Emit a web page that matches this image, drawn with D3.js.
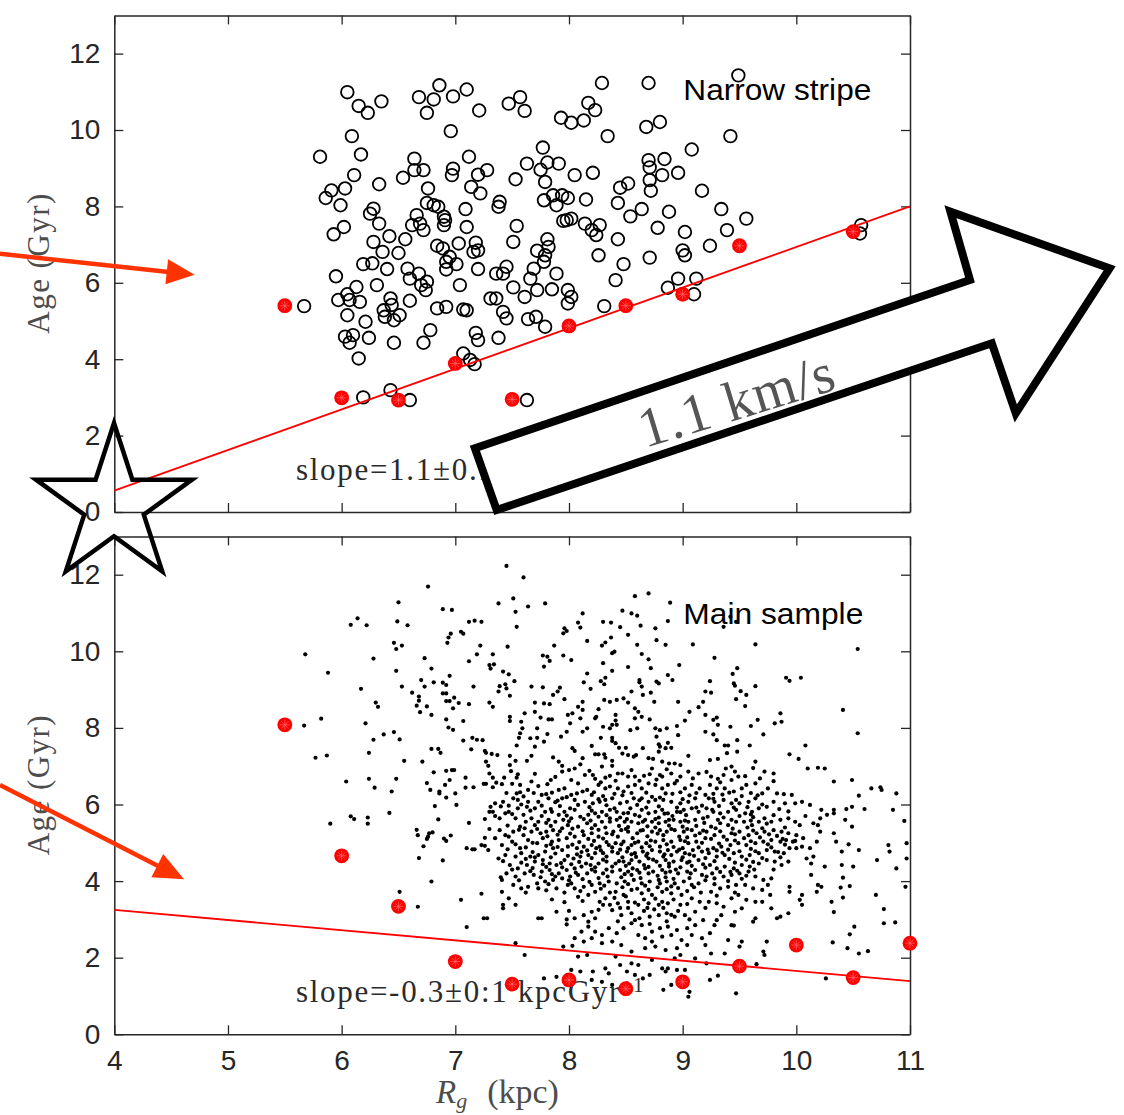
<!DOCTYPE html>
<html>
<head>
<meta charset="utf-8">
<script src="https://cdn.jsdelivr.net/npm/d3@7"></script>
<style>
  body { margin: 0; background: #fff; }
  svg { display: block; }
</style>
</head>
<body>
<svg id="chart" width="1124" height="1115"></svg>
<script>
// ---- data ----
const xTicks = [4, 5, 6, 7, 8, 9, 10, 11];
const yTicks = [0, 2, 4, 6, 8, 10, 12];

// Narrow stripe: individual stars (Rg kpc, age Gyr)
const narrowStripe = [
[6.05,10.99],[6.86,11.17],[7.10,11.06],[6.68,10.86],[6.81,10.80],[6.98,10.88],[6.15,10.63],[6.35,10.75],[6.23,10.45],[6.75,10.45],
[7.21,10.51],[7.47,10.69],[7.57,10.86],[7.61,10.50],[7.93,10.32],[8.02,10.19],[6.96,9.97],[6.09,9.84],[6.17,9.36],[5.81,9.30],
[6.64,9.25],[7.12,9.30],[7.77,9.54],[7.63,9.12],[7.81,9.15],[7.91,9.12],[7.75,8.96],[8.05,8.82],[6.11,8.82],[6.54,8.75],
[6.64,8.95],[6.72,8.95],[6.98,8.99],[6.97,8.82],[7.20,8.83],[7.28,8.95],[7.53,8.71],[6.33,8.58],[6.03,8.47],[5.91,8.42],
[5.86,8.22],[5.99,8.03],[6.76,8.47],[7.14,8.51],[7.22,8.34],[7.79,8.64],[7.39,8.12],[7.38,7.99],[7.78,8.16],[7.86,8.29],
[7.94,8.29],[7.99,8.22],[7.89,8.03],[6.75,8.09],[6.81,8.03],[6.85,7.99],[6.28,7.94],[6.25,7.81],[7.09,7.93],[6.90,7.73],
[6.91,7.64],[6.90,7.51],[6.66,7.77],[6.62,7.51],[6.69,7.55],[6.72,7.38],[6.33,7.55],[6.02,7.46],[5.93,7.27],[7.10,7.46],
[7.54,7.49],[7.95,7.62],[7.98,7.64],[8.02,7.68],[6.56,7.14],[6.42,7.22],[6.28,7.07],[7.03,7.03],[7.18,7.05],[6.84,6.97],
[7.51,7.07],[7.81,7.14],[7.82,6.94],[7.72,6.84],[6.36,6.81],[6.50,6.78],[6.89,6.90],[7.16,6.81],[7.20,6.85],[6.95,6.68],
[6.92,6.55],[6.92,6.35],[7.01,6.49],[7.79,6.72],[7.78,6.55],[6.19,6.49],[6.27,6.51],[6.40,6.36],[6.58,6.37],[6.68,6.24],
[6.60,6.11],[6.75,6.03],[6.70,5.94],[6.74,5.81],[7.20,6.36],[7.36,6.24],[7.42,6.24],[7.45,6.42],[7.69,6.37],[7.66,6.11],
[7.89,6.24],[5.95,6.17],[6.31,5.94],[6.13,5.89],[7.04,5.94],[7.51,5.88],[7.72,5.81],[7.85,5.83],[7.99,5.81],[8.02,5.63],
[7.99,5.46],[7.61,5.63],[7.31,5.59],[7.36,5.59],[6.05,5.70],[5.97,5.55],[6.07,5.55],[6.16,5.50],[6.43,5.59],[6.44,5.42],
[6.60,5.53],[5.67,5.39],[6.84,5.33],[6.92,5.37],[7.07,5.30],[7.10,5.28],[6.05,5.15],[6.37,5.28],[6.38,5.11],[6.46,5.02],
[6.51,5.15],[7.42,5.24],[7.45,5.07],[7.64,5.05],[7.71,5.11],[7.79,4.85],[6.21,4.98],[6.78,4.76],[7.18,4.69],[7.20,4.50],
[7.38,4.56],[6.03,4.59],[6.10,4.63],[6.07,4.43],[6.24,4.56],[6.46,4.43],[6.72,4.43],[6.15,4.02],[7.07,4.15],[7.13,3.98],
[7.17,3.87],[6.19,3.00],[6.43,3.19],[6.60,2.93],[7.63,2.93],
[8.29,11.23],[8.70,11.23],[9.49,11.43],[8.17,10.71],[8.23,10.52],[8.13,10.25],[8.34,9.84],[8.68,10.08],[8.80,10.21],[9.42,9.84],
[9.08,9.49],[8.70,9.21],[8.71,9.02],[8.84,9.24],[8.82,8.82],[8.96,8.88],[8.21,8.88],[8.45,8.49],[8.52,8.60],[8.71,8.69],
[8.72,8.41],[9.17,8.41],[8.15,8.18],[8.43,8.09],[8.64,7.93],[8.54,7.74],[8.88,7.86],[9.34,7.93],[9.56,7.68],[8.14,7.55],
[8.20,7.38],[8.27,7.51],[8.24,7.25],[8.43,7.14],[8.78,7.44],[9.02,7.33],[9.39,7.38],[8.26,6.72],[8.71,6.66],[9.00,6.85],
[9.02,6.72],[9.24,6.97],[8.48,6.49],[8.41,6.07],[8.96,6.11],[9.12,6.11],[8.87,5.87],[9.10,5.70],[8.31,5.39],[10.57,7.51],
[10.56,7.29]
];

// Narrow stripe: binned minimum ages
const narrowBins = [[5.5,5.40],[6.0,2.99],[6.5,2.93],[7.0,3.89],[7.5,2.95],[8.0,4.87],[8.5,5.40],[9.0,5.70],[9.5,6.97],[10.5,7.34]];
const narrowFit = [[4,0.56],[11,8.0]];

// Main sample: individual stars (Rg kpc, age Gyr)
const mainSample = [
[6.76,11.69],[6.50,11.28],[6.89,11.10],[6.97,11.08],[6.14,10.86],[6.08,10.69],[6.22,10.68],[6.49,10.78],[6.58,10.68],[7.12,10.77],
[7.17,10.80],[7.23,10.77],[7.05,10.51],[7.07,10.46],[6.96,10.46],[6.94,10.36],[6.93,10.22],[6.46,10.22],[6.53,10.15],[6.48,10.06],
[7.22,10.15],[7.19,9.92],[7.33,9.92],[5.68,9.92],[6.28,9.81],[6.73,9.82],[7.12,9.74],[7.30,9.64],[7.31,9.55],[7.34,9.66],
[5.88,9.44],[6.48,9.49],[6.79,9.55],[6.95,9.36],[6.70,9.25],[6.81,9.19],[6.89,9.18],[6.92,9.12],[6.73,9.08],[6.53,9.08],
[7.16,9.08],[6.17,9.02],[6.62,8.92],[6.68,8.82],[6.68,8.71],[6.89,8.90],[6.92,8.90],[6.99,8.79],[6.92,8.70],[6.95,8.70],
[7.03,8.65],[7.12,8.62],[7.30,8.66],[7.33,8.55],[6.30,8.66],[6.32,8.55],[6.66,8.58],[6.75,8.56],[6.69,8.41],[6.79,8.34],
[6.98,8.51],[5.82,8.24],[5.67,8.06],[6.21,8.12],[6.92,8.22],[7.07,8.18],[6.94,8.01],[6.98,7.95],[6.46,7.89],[6.37,7.83],
[6.28,7.69],[6.51,7.70],[7.07,7.67],[7.15,7.74],[7.19,7.69],[7.24,7.68],[6.24,7.35],[5.77,7.22],[5.87,7.28],[6.55,7.14],
[6.71,7.12],[6.79,7.45],[6.85,7.45],[6.87,7.35],[7.14,7.44],[7.26,7.40],[7.27,7.35],[7.32,7.32],[7.27,7.12],[7.29,7.01],
[7.30,6.81],[7.33,6.70],[6.81,6.84],[6.92,6.88],[6.97,6.90],[6.99,6.90],[7.09,6.70],[7.25,6.54],[7.27,6.54],[6.04,6.60],
[6.24,6.67],[6.29,6.44],[6.48,6.67],[6.44,6.34],[6.75,6.56],[6.78,6.38],[6.86,6.34],[6.86,6.29],[6.91,6.51],[6.95,6.64],
[6.92,6.18],[7.00,6.29],[7.09,6.44],[7.16,6.45],[7.33,6.45],[6.82,5.96],[7.01,5.99],[7.31,5.94],[7.30,5.81],[7.33,5.81],
[6.42,5.78],[6.08,5.69],[6.11,5.62],[6.23,5.66],[6.23,5.50],[5.90,5.50],[6.85,5.61],[7.12,5.52],[7.26,5.62],[7.30,5.36],
[6.66,5.34],[6.67,5.20],[6.76,5.16],[6.77,5.25],[6.80,5.27],[6.75,5.10],[6.90,5.11],[6.92,5.05],[6.96,5.19],[7.26,5.13],
[7.23,4.94],[7.26,4.92],[7.29,4.81],[7.10,4.86],[7.15,4.83],[7.17,4.83],[6.72,4.91],[6.68,4.60],[6.89,4.54],[6.79,3.99],
[6.51,3.72],[7.05,3.51],[7.23,3.67],[6.67,3.33],[7.25,3.03],[7.28,3.03],[7.10,2.80],
[7.45,12.23],[7.60,11.93],[7.51,11.38],[7.38,11.25],[7.64,11.17],[7.79,11.25],[7.53,11.03],[7.54,10.64],[8.58,11.44],[8.70,11.51],
[8.89,11.27],[8.47,11.06],[8.55,10.99],[8.60,10.93],[8.12,10.99],[8.87,10.79],[7.96,10.60],[7.98,10.53],[7.95,10.47],[8.08,10.75],
[8.10,10.62],[8.30,10.77],[8.37,10.75],[8.45,10.63],[8.63,10.67],[8.76,10.60],[8.52,10.43],[8.37,10.36],[8.32,10.23],[8.29,10.15],
[8.16,10.27],[7.87,10.15],[7.46,10.12],[8.60,10.17],[8.77,10.29],[8.85,10.17],[9.09,10.18],[7.77,9.89],[7.81,9.86],[7.83,9.75],
[7.78,9.60],[7.95,9.89],[8.02,9.77],[8.30,9.69],[8.40,9.99],[8.38,9.95],[8.64,9.93],[8.70,9.79],[8.97,9.64],[8.52,9.59],
[8.38,9.49],[8.72,9.56],[8.16,9.42],[8.32,9.31],[8.28,9.22],[8.13,9.19],[8.19,9.02],[8.31,9.14],[7.42,9.47],[7.47,9.40],
[7.52,9.22],[7.44,9.14],[7.39,9.09],[7.38,8.95],[7.48,8.84],[7.45,9.03],[7.67,9.08],[7.77,9.06],[7.92,9.05],[7.90,8.95],
[7.86,8.86],[7.96,8.75],[8.62,9.25],[8.62,9.19],[8.64,9.08],[8.77,9.21],[8.79,9.16],[8.87,9.38],[8.91,9.25],[8.96,8.68],
[8.55,8.95],[8.72,8.92],[8.75,8.68],[8.65,8.86],[8.31,8.73],[8.36,8.68],[8.42,8.73],[8.48,8.77],[8.52,8.66],[8.58,8.51],
[8.12,8.68],[8.08,8.55],[8.12,8.47],[8.03,8.38],[7.99,8.34],[8.01,8.12],[8.10,8.25],[7.70,8.66],[7.78,8.64],[7.83,8.62],
[7.61,8.38],[7.70,8.42],[7.75,8.27],[7.82,8.22],[7.85,8.22],[7.48,8.29],[7.48,8.18],[7.58,8.16],[7.59,7.99],[7.57,7.86],
[7.56,7.74],[7.72,7.99],[8.26,8.49],[8.24,8.29],[8.23,8.25],[8.41,8.34],[8.41,8.19],[8.42,8.08],[8.38,8.08],[8.30,8.03],
[8.36,7.99],[8.61,8.42],[8.64,8.29],[8.58,8.25],[8.71,8.22],[8.76,7.99],[8.80,7.94],[8.86,7.99],[8.95,8.05],[8.96,7.81],
[9.06,8.42],[9.02,8.19],[8.87,7.61],[8.90,7.48],[8.85,7.47],[9.20,8.34],[9.18,8.68],[9.14,8.54],[8.77,7.77],[8.60,7.99],
[8.54,7.94],[8.16,7.99],[8.12,7.90],[8.28,7.74],[8.38,7.74],[8.41,7.60],[7.98,7.90],[7.93,7.77],[7.81,7.84],[7.72,7.74],
[7.66,7.73],[7.78,7.64],[7.70,7.51],[7.37,7.29],[7.48,7.27],[7.54,7.54],[7.53,7.14],[7.67,7.27],[7.63,7.14],[7.48,7.03],
[7.49,6.87],[7.55,6.79],[7.54,6.70],[7.43,6.70],[7.36,6.57],[7.41,6.53],[7.50,6.54],[7.57,6.51],[7.86,7.23],[7.91,7.12],
[7.94,7.01],[8.03,7.47],[8.05,7.40],[8.12,7.21],[8.10,7.05],[8.20,7.53],[8.23,7.31],[8.26,7.31],[8.31,7.31],[8.29,6.99],
[8.32,7.22],[8.38,7.14],[8.38,7.01],[8.38,7.66],[8.44,7.48],[8.50,7.48],[8.47,7.33],[8.52,7.29],[8.57,7.25],[8.59,7.29],
[8.65,7.47],[8.70,7.21],[8.74,7.19],[8.79,7.38],[8.80,7.51],[8.82,7.12],[8.88,7.07],[8.93,7.07],[8.98,7.03],[9.05,7.27],
[9.05,6.86],[9.14,6.81],[8.79,7.57],[7.94,6.86],[8.05,6.94],[8.14,6.77],[8.21,6.77],[8.23,6.67],[8.32,6.70],[8.36,6.75],
[8.43,6.81],[8.47,6.81],[8.52,6.73],[8.58,6.73],[8.66,6.75],[8.71,6.79],[8.73,6.94],[8.80,6.77],[8.82,6.73],[8.90,6.81],
[8.98,6.73],[8.02,6.64],[8.08,6.55],[7.84,6.64],[7.81,6.53],[7.67,6.60],[7.64,6.38],[7.73,6.48],[7.80,6.27],[7.91,6.38],
[7.96,6.42],[7.35,6.03],[7.42,6.07],[7.47,5.97],[7.51,6.16],[7.54,6.29],[7.57,6.32],[7.64,6.07],[7.73,6.07],[7.76,6.25],
[7.82,6.16],[7.88,6.06],[7.94,6.16],[8.02,6.25],[8.05,6.12],[8.12,6.34],[8.16,6.38],[8.20,6.25],[8.26,6.51],[8.32,6.42],
[8.36,6.47],[8.43,6.42],[8.48,6.34],[8.52,6.47],[8.58,6.51],[8.64,6.42],[8.70,6.55],[8.76,6.51],[8.82,6.42],[8.87,6.51],
[8.93,6.55],[9.02,6.42],[9.08,6.51],[9.15,6.42],[9.20,6.25],[9.11,6.16],[9.05,6.07],[8.98,6.03],[8.90,6.07],[8.83,6.12],
[8.76,6.12],[8.70,6.07],[8.64,6.16],[8.57,6.16],[8.51,6.07],[8.45,6.03],[8.38,6.16],[8.32,6.12],[8.27,6.07],[8.21,6.03],
[8.14,6.07],[8.08,5.99],[8.01,5.90],[7.96,5.81],[7.91,5.73],[7.85,5.81],[7.79,5.81],[7.70,5.90],[7.63,5.94],[7.55,5.90],
[7.47,5.81],[7.44,5.77],[7.39,5.64],[7.53,5.64],[7.60,5.73],[7.67,5.64],[7.73,5.55],[7.82,5.60],[7.88,5.55],[7.95,5.60],
[8.02,5.64],[8.10,5.68],[8.17,5.73],[8.23,5.77],[8.29,5.81],[8.36,5.86],[8.42,5.81],[8.48,5.77],[8.54,5.90],[8.58,5.73],
[8.64,5.86],[8.70,5.77],[8.76,5.81],[8.82,5.86],[8.87,5.77],[8.95,5.81],[9.01,5.86],[9.08,5.90],[9.14,5.81],[9.18,5.64],
[9.11,5.60],[9.05,5.55],[8.98,5.55],[8.92,5.60],[8.85,5.55],[8.79,5.51],[8.73,5.55],[8.67,5.60],[8.61,5.51],[8.55,5.55],
[8.49,5.55],[8.42,5.60],[8.36,5.55],[8.29,5.55],[8.23,5.46],[8.16,5.51],[8.08,5.42],[7.99,5.46],[7.94,5.38],[7.86,5.33],
[7.80,5.29],[7.75,5.25],[7.67,5.29],[7.61,5.38],[7.51,5.29],[7.44,5.20],[7.39,5.33],[7.41,4.94],[7.50,5.03],[7.57,4.86],
[7.64,5.07],[7.72,4.99],[7.77,5.12],[7.85,5.03],[7.91,5.07],[7.98,5.12],[8.05,5.16],[8.13,5.20],[8.20,5.25],[8.26,5.16],
[8.33,5.25],[8.39,5.29],[8.46,5.33],[8.52,5.29],[8.60,5.25],[8.65,5.33],[8.73,5.29],[8.80,5.33],[8.86,5.29],[8.93,5.33],
[9.01,5.29],[9.08,5.33],[9.15,5.25],[9.20,5.12],[9.12,5.03],[9.05,4.99],[8.98,5.07],[8.90,5.03],[8.83,5.07],[8.76,5.03],
[8.68,4.99],[8.61,5.03],[8.55,4.94],[8.48,5.03],[8.41,4.99],[8.35,4.94],[8.27,4.90],[8.20,4.94],[8.13,4.90],[8.07,4.86],
[7.99,4.90],[7.94,4.81],[7.86,4.86],[7.79,4.77],[7.73,4.68],[7.66,4.64],[7.58,4.73],[7.53,4.64],[7.44,4.68],[7.38,4.59],
[7.48,4.42],[7.55,4.33],[7.63,4.42],[7.70,4.51],[7.77,4.55],[7.83,4.46],[7.89,4.42],[7.96,4.55],[8.04,4.59],[8.10,4.64],
[8.17,4.68],[8.23,4.73],[8.30,4.73],[8.38,4.77],[8.43,4.73],[8.51,4.77],[8.58,4.73],[8.65,4.77],[8.73,4.81],[8.80,4.77],
[8.87,4.81],[8.95,4.77],[9.02,4.73],[9.09,4.81],[9.17,4.77],[9.14,4.55],[9.06,4.51],[8.99,4.55],[8.92,4.51],[8.85,4.55],
[8.77,4.51],[8.70,4.59],[8.62,4.51],[8.55,4.55],[8.48,4.51],[8.41,4.46],[8.33,4.51],[8.26,4.46],[8.19,4.42],[8.11,4.38],
[8.05,4.33],[7.98,4.29],[7.91,4.20],[7.83,4.29],[7.76,4.25],[7.69,4.16],[7.61,4.20],[7.53,4.12],[7.45,4.20],[7.41,4.03],
[7.51,3.90],[7.58,3.81],[7.64,3.85],[7.72,3.94],[7.79,3.99],[7.86,4.03],[7.94,4.07],[8.01,4.12],[8.08,4.16],[8.16,4.20],
[8.23,4.25],[8.30,4.20],[8.38,4.25],[8.45,4.29],[8.52,4.25],[8.60,4.29],[8.67,4.33],[8.74,4.25],[8.82,4.29],[8.89,4.25],
[8.96,4.20],[9.04,4.25],[9.11,4.29],[9.17,4.16],[9.14,3.94],[9.08,3.90],[9.01,3.99],[8.93,3.94],[8.86,3.99],[8.79,4.03],
[8.71,3.99],[8.64,3.94],[8.57,4.03],[8.49,3.99],[8.42,3.94],[8.35,3.99],[8.27,3.94],[8.20,3.90],[8.13,3.85],[8.05,3.81],
[7.99,3.90],[7.89,3.81],[7.73,3.81],[7.41,3.72],[7.53,3.38],[7.42,3.38],[7.42,3.29],[7.47,3.55],[7.73,3.03],[7.76,3.03],
[7.89,3.20],[7.98,3.00],[7.98,2.87],[8.05,3.03],[8.13,3.11],[8.17,2.94],[8.23,3.03],[8.26,3.25],[8.32,3.55],[8.08,3.59],
[8.17,3.64],[8.23,3.72],[8.41,3.72],[8.48,3.64],[8.55,3.77],[8.64,3.68],[8.73,3.64],[8.82,3.72],[8.90,3.68],[8.99,3.64],
[9.08,3.55],[9.15,3.46],[8.98,3.38],[8.87,3.42],[8.79,3.38],[8.70,3.42],[8.61,3.38],[8.52,3.46],[8.43,3.42],[8.36,3.38],
[8.46,3.11],[8.55,3.16],[8.62,3.03],[8.71,3.07],[8.79,3.11],[8.86,3.16],[8.93,3.07],[9.02,3.11],[9.11,3.20],[9.18,2.98],
[9.11,2.85],[9.04,2.77],[8.95,2.72],[8.87,2.81],[8.80,2.77],[8.73,2.68],[8.64,2.85],[8.55,2.90],[8.48,2.77],[8.42,2.64],
[8.35,2.77],[8.29,2.59],[8.23,2.68],[8.17,2.81],[8.11,2.68],[8.61,2.59],[8.67,2.51],[8.73,2.42],[8.82,2.55],[8.90,2.59],
[8.99,2.46],[9.08,2.59],[9.17,2.51],[9.04,2.33],[8.95,2.25],[8.85,2.20],[8.76,2.29],[8.67,2.25],[8.55,2.16],[8.46,2.33],
[8.38,2.42],[8.29,2.38],[8.20,2.51],[8.13,2.42],[8.05,2.51],[7.53,2.38],[7.61,2.07],[7.95,2.29],[8.03,2.31],[8.08,2.03],
[8.16,2.07],[8.41,2.03],[8.45,1.81],[8.55,1.85],[8.61,1.81],[8.73,1.94],[8.82,1.72],[8.87,1.72],[8.93,1.98],[8.98,2.07],
[9.11,1.98],[8.02,1.68],[8.10,1.64],[8.21,1.64],[8.32,1.72],[8.35,1.59],[8.51,1.64],[8.58,1.55],[8.65,1.46],[8.71,1.55],
[8.85,1.64],[8.95,1.68],[9.02,1.68],[7.78,1.46],[7.89,1.50],[8.20,1.42],[8.29,1.37],[8.38,1.29],[8.51,1.33],[8.83,1.16],
[8.90,1.29],[9.06,1.11],[9.05,0.98],
[9.42,10.90],[9.47,10.77],[9.36,10.64],[9.64,10.18],[10.54,10.06],[9.28,9.83],[9.48,9.56],[9.44,9.41],[9.45,9.16],[9.46,9.10],
[9.24,9.22],[9.64,9.09],[9.20,8.95],[9.25,8.92],[9.51,8.96],[9.56,8.86],[9.47,8.75],[9.55,8.57],[9.91,9.31],[9.94,9.23],
[10.04,9.31],[10.41,8.47],[9.86,8.38],[9.81,8.12],[9.87,8.16],[9.66,8.21],[9.60,8.05],[9.30,8.27],[9.31,8.08],[9.42,8.03],
[9.27,8.21],[9.27,7.83],[9.30,7.68],[9.37,7.54],[9.40,7.54],[9.39,7.34],[9.48,7.68],[9.48,7.38],[9.59,7.54],[9.71,7.83],
[9.64,7.12],[9.20,7.90],[9.94,7.31],[10.08,7.54],[10.02,7.19],[10.54,7.86],[10.10,6.94],[10.19,6.96],[10.25,6.94],[10.33,6.60],
[10.49,6.64],[10.66,6.42],[10.74,6.45],[10.75,6.38],[10.88,6.29],[10.55,6.23],[10.60,5.88],[10.49,5.94],[10.44,5.88],[10.33,5.86],
[10.33,5.77],[10.43,5.60],[10.49,5.42],[10.46,4.96],[10.40,4.77],[10.55,4.81],[10.33,5.25],[10.35,5.03],[10.27,5.73],[10.22,5.86],
[10.21,5.64],[10.19,5.46],[10.21,5.29],[10.15,5.51],[10.18,5.03],[10.12,4.86],[10.15,4.64],[10.09,4.59],[10.25,4.38],[10.22,3.85],
[10.19,3.90],[10.13,4.46],[10.13,4.16],[10.18,3.72],[10.85,5.86],[10.95,5.57],[10.81,4.94],[10.82,4.77],[10.71,4.55],[10.97,4.99],
[10.97,4.59],[10.88,4.33],[10.96,3.85],[10.40,4.42],[10.41,4.09],[10.50,4.38],[10.47,3.87],[10.39,3.83],[10.41,3.57],[10.31,3.46],
[10.33,3.19],[10.70,3.64],[10.77,3.27],[10.77,2.90],[10.87,2.92],[10.51,2.81],[10.47,2.61],[10.32,2.40],[10.45,2.25],[10.55,2.11],
[10.63,2.17],[10.26,1.46],
[9.24,7.16],[9.31,7.19],[9.38,6.94],[9.43,6.99],[9.46,6.86],[9.49,6.73],[9.43,6.64],[9.36,6.77],[9.31,6.67],[9.25,6.73],
[9.24,6.51],[9.30,6.42],[9.37,6.42],[9.45,6.34],[9.52,6.42],[9.56,6.51],[9.64,6.55],[9.68,6.68],[9.72,6.86],[9.80,6.81],
[9.80,6.61],[9.75,6.42],[9.70,6.29],[9.64,6.16],[9.58,6.07],[9.50,6.03],[9.43,6.03],[9.36,6.12],[9.28,6.07],[9.23,6.16],
[9.21,5.90],[9.27,5.81],[9.33,5.77],[9.40,5.81],[9.47,5.86],[9.55,5.77],[9.61,5.81],[9.67,5.90],[9.74,5.94],[9.80,6.07],
[9.90,6.03],[9.99,6.03],[10.05,6.07],[10.12,5.99],[9.96,6.25],[9.89,6.27],[9.86,5.60],[9.93,5.64],[9.99,5.55],[10.03,5.46],
[9.78,5.55],[9.72,5.64],[9.67,5.55],[9.61,5.46],[9.54,5.55],[9.47,5.55],[9.40,5.46],[9.33,5.51],[9.25,5.42],[9.21,5.29],
[9.28,5.20],[9.36,5.16],[9.43,5.25],[9.50,5.29],[9.58,5.20],[9.65,5.25],[9.72,5.29],[9.80,5.33],[9.87,5.29],[9.93,5.25],
[10.00,5.20],[10.06,5.12],[9.97,5.03],[9.91,5.07],[9.86,5.03],[9.78,5.07],[9.71,5.03],[9.64,4.99],[9.56,4.94],[9.49,4.99],
[9.42,4.94],[9.34,4.90],[9.27,4.86],[9.23,4.73],[9.30,4.64],[9.37,4.68],[9.45,4.73],[9.52,4.64],[9.59,4.68],[9.67,4.73],
[9.74,4.81],[9.81,4.77],[9.89,4.73],[9.94,4.86],[10.00,4.86],[10.05,4.90],[9.93,4.51],[9.87,4.42],[9.81,4.51],[9.74,4.55],
[9.67,4.46],[9.59,4.38],[9.52,4.42],[9.45,4.33],[9.37,4.38],[9.30,4.33],[9.24,4.42],[9.21,4.12],[9.28,4.07],[9.36,4.12],
[9.43,4.16],[9.50,4.20],[9.58,4.25],[9.64,4.12],[9.71,4.03],[9.78,4.07],[9.75,3.90],[9.70,3.77],[9.62,3.81],[9.55,3.90],
[9.47,3.90],[9.40,3.85],[9.33,3.81],[9.25,3.72],[9.23,3.46],[9.30,3.42],[9.36,3.33],[9.43,3.55],[9.49,3.64],[9.56,3.51],
[9.64,3.46],[9.70,3.46],[9.77,3.64],[9.78,3.29],[9.83,3.03],[9.86,3.07],[9.93,3.16],[9.94,3.72],[9.94,3.85],[10.05,3.64],
[10.05,3.38],[10.03,3.51],[9.64,3.03],[9.62,2.94],[9.52,3.29],[9.46,3.20],[9.34,3.11],[9.30,2.98],[9.24,2.64],[9.28,2.85],
[9.43,2.85],[9.45,2.84],[9.20,2.33],[9.25,2.11],[9.40,2.46],[9.50,2.29],[9.52,2.42],[9.37,2.11],[9.71,2.16],[9.74,2.42],
[9.72,2.07],[9.65,1.83],[9.31,1.53],[9.24,1.42],[9.47,1.07],[9.21,1.85],
// crowded core of the distribution
[7.45,6.30],[7.69,6.30],[7.85,6.31],[8.07,6.29],[8.22,6.32],[8.40,6.28],[8.55,6.30],[8.68,6.31],[8.85,6.29],[8.98,6.32],
[9.12,6.30],[9.27,6.28],[9.41,6.31],[9.60,6.30],[9.83,6.29],[7.60,6.21],[7.98,6.19],[8.30,6.22],[8.47,6.24],[8.73,6.20],
[8.91,6.28],[9.06,6.24],[9.35,6.26],[9.52,6.22],[7.40,5.95],[7.58,6.00],[7.76,5.97],[7.92,5.96],[8.18,5.93],[8.33,5.98],
[8.60,5.99],[8.79,5.95],[8.95,5.92],[9.17,5.97],[9.32,5.96],[9.57,5.93],[9.70,6.00],[9.85,5.88],[7.35,5.70],[7.50,5.75],
[7.76,5.70],[7.98,5.71],[8.13,5.62],[8.26,5.68],[8.33,5.72],[8.45,5.66],[8.62,5.69],[8.79,5.66],[8.91,5.70],[9.03,5.72],
[9.22,5.68],[9.36,5.66],[9.50,5.70],[9.62,5.67],[9.80,5.72],[10.08,5.70],[7.46,5.45],[7.57,5.42],[7.70,5.46],[7.84,5.44],
[8.03,5.37],[8.20,5.38],[8.32,5.40],[8.44,5.44],[8.52,5.41],[8.69,5.43],[8.76,5.40],[8.88,5.45],[9.00,5.42],[9.12,5.44],
[9.29,5.38],[9.44,5.37],[9.57,5.40],[9.70,5.38],[9.90,5.40],[7.35,5.12],[7.47,5.16],[7.60,5.20],[7.81,5.17],[7.90,5.21],
[8.01,5.24],[8.17,5.10],[8.30,5.11],[8.43,5.16],[8.56,5.12],[8.69,5.17],[8.83,5.20],[8.97,5.16],[9.04,5.14],[9.11,5.19],
[9.25,5.10],[9.39,5.08],[9.54,5.12],[9.68,5.14],[9.83,5.18],[9.99,5.05],[7.46,4.83],[7.62,4.88],[7.80,4.92],[7.90,4.89],
[8.03,4.95],[8.16,4.80],[8.24,4.86],[8.38,4.88],[8.52,4.86],[8.64,4.88],[8.71,4.91],[8.80,4.90],[8.92,4.89],[9.00,4.86],
[9.14,4.88],[9.30,4.80],[9.40,4.82],[9.60,4.84],[9.78,4.88],[9.90,4.95],[7.42,4.52],[7.62,4.58],[7.70,4.62],[7.84,4.62],
[7.99,4.66],[8.07,4.70],[8.20,4.60],[8.33,4.64],[8.47,4.62],[8.59,4.63],[8.68,4.66],[8.83,4.64],[8.90,4.68],[9.00,4.62],
[9.10,4.66],[9.20,4.60],[9.41,4.58],[9.56,4.56],[9.70,4.60],[9.86,4.62],[7.50,4.30],[7.68,4.34],[7.80,4.37],[7.94,4.36],
[8.02,4.44],[8.15,4.46],[8.23,4.36],[8.38,4.38],[8.50,4.40],[8.56,4.33],[8.70,4.37],[8.80,4.40],[8.88,4.38],[8.98,4.36],
[9.08,4.40],[9.20,4.35],[9.33,4.24],[9.48,4.27],[9.63,4.30],[9.80,4.30],[7.40,4.10],[7.56,4.02],[7.75,4.10],[7.88,4.12],
[8.00,4.02],[8.12,4.05],[8.26,4.08],[8.34,4.12],[8.46,4.10],[8.55,4.16],[8.63,4.08],[8.78,4.14],[8.85,4.10],[8.92,4.06],
[9.06,4.08],[9.20,4.02],[9.40,4.00],[9.52,4.06],[7.62,3.70],[7.80,3.76],[7.96,3.70],[8.10,3.74],[8.28,3.80],[8.36,3.70],
[8.47,3.84],[8.60,3.80],[8.70,3.77],[8.78,3.84],[8.86,3.79],[8.96,3.82],[9.04,3.74],[9.16,3.70],[9.30,3.62],[9.46,3.70],
[7.85,3.52],[7.96,3.45],[8.12,3.48],[8.27,3.46],[8.40,3.56],[8.50,3.60],[8.66,3.52],[8.76,3.54],[8.92,3.52],[9.04,3.40],
[9.20,3.30],[8.00,3.22],[8.20,3.20],[8.38,3.24],[8.52,3.30],[8.66,3.22],[8.75,3.26],[8.83,3.30],[8.96,3.22],[9.06,3.00],
[7.70,6.80],[7.88,6.72],[8.00,6.90],[8.18,6.88],[8.28,6.58],[8.41,6.62],[8.55,6.90],[8.62,6.62],[8.77,6.65],[8.86,6.92],
[8.95,6.62],[9.09,6.68],[9.21,6.85],[9.33,6.58],[9.55,6.74],[9.62,6.95],
[7.55,6.12],[7.90,6.10],[8.26,6.14],[8.62,6.11],[8.80,6.18],[9.00,6.14],[9.27,6.15],[9.47,6.12],[9.66,6.24],
[7.66,5.84],[7.84,5.88],[8.05,5.86],[8.20,5.84],[8.40,5.90],[8.52,5.78],[8.68,5.92],[8.84,5.76],[8.98,5.80],[9.12,5.92],
[9.26,5.86],[9.45,5.92],[9.60,5.74],[9.93,5.82],[7.62,5.55],[7.80,5.52],[8.00,5.56],[8.19,5.58],[8.36,5.64],[8.51,5.62],
[8.65,5.55],[8.76,5.62],[8.88,5.60],[9.02,5.58],[9.19,5.52],[9.31,5.60],[9.43,5.60],[9.60,5.58],[9.74,5.50],[7.56,5.34],
[7.72,5.36],[7.92,5.30],[8.12,5.30],[8.26,5.34],[8.38,5.22],[8.50,5.36],[8.63,5.32],[8.78,5.24],[8.90,5.36],[9.04,5.36],
[9.18,5.32],[9.33,5.30],[9.46,5.22],[9.62,5.32],[9.76,5.22],[7.53,4.96],[7.68,5.00],[7.84,4.96],[8.09,5.02],[8.22,5.05],
[8.33,5.02],[8.46,4.96],[8.58,5.00],[8.72,5.06],[8.86,4.96],[9.02,5.04],[9.17,5.00],[9.32,4.98],[9.46,5.06],[9.60,5.04],
[9.75,4.96],[9.88,5.10],[7.68,4.76],[7.88,4.72],[8.11,4.76],[8.28,4.80],[8.45,4.82],[8.55,4.70],[8.69,4.72],[8.84,4.70],
[8.97,4.82],[9.06,4.70],[9.22,4.82],[9.35,4.74],[9.50,4.78],[9.64,4.78],[9.84,4.76],[7.58,4.48],[7.77,4.44],[7.93,4.47],
[8.09,4.50],[8.30,4.56],[8.44,4.52],[8.53,4.46],[8.66,4.42],[8.74,4.56],[8.88,4.46],[9.04,4.48],[9.18,4.44],[9.28,4.52],
[9.46,4.48],[9.62,4.50],[7.66,4.26],[7.85,4.18],[8.06,4.22],[8.20,4.30],[8.33,4.30],[8.49,4.18],[8.62,4.22],[8.70,4.20],
[8.85,4.22],[8.94,4.30],[9.07,4.20],[9.26,4.20],[9.42,4.24],[9.56,4.14],[7.82,3.92],[8.02,3.94],[8.18,3.98],[8.31,3.88],
[8.52,3.92],[8.67,3.88],[8.80,3.94],[8.90,3.86],[9.10,3.84],[9.28,3.92],[8.30,3.38],[8.45,3.30],[8.58,3.44],[8.69,3.30],
[8.82,3.46],[8.90,3.12],[8.43,2.95],[8.58,2.98],[8.71,2.88],[8.86,2.95]
];

// Main sample: binned minimum ages
const mainBins = [[5.5,8.08],[6.0,4.66],[6.5,3.34],[7.0,1.90],[7.5,1.31],[8.0,1.42],[8.5,1.19],[9.0,1.37],[9.5,1.78],[10.0,2.33],[10.5,1.48],[11.0,2.38]];
const mainFit = [[4,3.25],[11,1.39]];

// fit annotations: main text and optional unit exponent
const slopeTexts = ["slope=1.1\u00b10.1", "slope=-0.3\u00b10:1 kpcGyr"];
const slopeExps = ["", "\u22121"];
const panelTitles = ["Narrow stripe", "Main sample"];

// ---- layout ----
const svg = d3.select("#chart");
const AXIS = "#262626";
const SANS = "'Liberation Sans', Arial, Helvetica, sans-serif";
const SERIF = "'Liberation Serif', 'Times New Roman', serif";
const x = d3.scaleLinear().domain([4, 11]).range([114.3, 910]);

const panels = [
  { top: 15.4, bottom: 512, showX: false, stars: narrowStripe, bins: narrowBins, fit: narrowFit,
    slope: slopeTexts[0], exp: slopeExps[0], slopeY: 480.4, title: panelTitles[0], titleY: 99.9, titleLen: 188, open: true },
  { top: 536.4, bottom: 1034.3, showX: true, stars: mainSample, bins: mainBins, fit: mainFit,
    slope: slopeTexts[1], exp: slopeExps[1], slopeY: 1002, title: panelTitles[1], titleY: 624, titleLen: 180, open: false }
];

function drawPanel(p) {
  const y = d3.scaleLinear().domain([0, 13]).range([p.bottom, p.top]);
  const g = svg.append("g");

  g.append("g").attr("transform", `translate(${x(4)},0)`)
    .call(d3.axisLeft(y).tickValues(yTicks).tickSize(-9).tickSizeOuter(0).tickPadding(14).tickFormat(d3.format("d")));
  g.append("g").attr("transform", `translate(${x(11)},0)`)
    .call(d3.axisRight(y).tickValues(yTicks).tickSize(-9).tickSizeOuter(0).tickFormat(""));
  g.append("g").attr("transform", `translate(0,${p.top})`)
    .call(d3.axisTop(x).tickValues(xTicks).tickSize(-9).tickSizeOuter(0).tickFormat(""));
  g.append("g").attr("transform", `translate(0,${p.bottom})`)
    .call(d3.axisBottom(x).tickValues(xTicks).tickSize(-9).tickSizeOuter(0).tickPadding(16)
      .tickFormat(p.showX ? d3.format("d") : ""));

  g.selectAll(".domain").attr("stroke", AXIS).attr("stroke-width", 1.5);
  g.selectAll(".tick line").attr("stroke", AXIS).attr("stroke-width", 1.3);
  g.selectAll(".tick text").attr("font-family", SANS).attr("font-size", 28).attr("fill", AXIS);

  // y-axis title
  g.append("text")
    .attr("transform", `translate(49,${(p.top + p.bottom) / 2}) rotate(-90)`)
    .attr("text-anchor", "middle")
    .attr("font-family", SERIF).attr("font-size", 31).attr("fill", "#4d4d4d")
    .attr("textLength", 140).attr("lengthAdjust", "spacing")
    .text("Age (Gyr)");

  // fit annotation
  const st = g.append("text").attr("x", 296).attr("y", p.slopeY)
    .attr("font-family", SERIF).attr("font-size", 31).attr("fill", "#2b2b2b")
    .attr("letter-spacing", 1.7);
  st.append("tspan").text(p.slope);
  if (p.exp) st.append("tspan").attr("font-size", 21).attr("dy", -10).attr("letter-spacing", 0).text(p.exp);

  // panel title
  g.append("text").attr("x", 683.3).attr("y", p.titleY)
    .attr("font-family", SANS).attr("font-size", 30).attr("fill", "#000")
    .attr("textLength", p.titleLen).attr("lengthAdjust", "spacingAndGlyphs")
    .text(p.title);

  // individual stars
  const pts = g.append("g");
  if (p.open) {
    pts.selectAll("circle").data(p.stars).join("circle")
      .attr("cx", d => x(d[0])).attr("cy", d => y(d[1])).attr("r", 6.3)
      .attr("fill", "none").attr("stroke", "#000").attr("stroke-width", 1.8);
  } else {
    pts.selectAll("circle").data(p.stars).join("circle")
      .attr("cx", d => x(d[0])).attr("cy", d => y(d[1])).attr("r", 2.1)
      .attr("fill", "#000");
  }

  // linear fit
  g.append("path").datum(p.fit)
    .attr("d", d3.line().x(d => x(d[0])).y(d => y(d[1])))
    .attr("stroke", "#ff0000").attr("stroke-width", 1.8).attr("fill", "none");

  // binned points: filled red disc with an asterisk
  const bins = g.append("g").selectAll("g").data(p.bins).join("g")
    .attr("transform", d => `translate(${x(d[0])},${y(d[1])})`);
  bins.append("circle").attr("r", 7.4).attr("fill", "#ff0000");
  bins.append("path")
    .attr("d", d3.range(4).map(i => {
      const a = i * Math.PI / 4, r = 5;
      return `M${-r * Math.cos(a)},${-r * Math.sin(a)}L${r * Math.cos(a)},${r * Math.sin(a)}`;
    }).join(""))
    .attr("stroke", "#ff6a6a").attr("stroke-width", 0.7);
}

panels.forEach(drawPanel);

// x-axis title
const xt = svg.append("text").attr("x", 436).attr("y", 1103)
  .attr("font-family", SERIF).attr("font-size", 33).attr("fill", "#4d4d4d");
xt.append("tspan").attr("font-style", "italic").text("R");
xt.append("tspan").attr("font-style", "italic").attr("font-size", 22).attr("dy", 5).text("g");
xt.append("tspan").attr("dy", -5).attr("dx", 20).attr("font-size", 34).text("(kpc)");

// ---- overlay annotations ----
const RED = "#ff3300";
function redArrow(x0, y0, x1, y1, headLen, headHalf) {
  const dx = x1 - x0, dy = y1 - y0, L = Math.hypot(dx, dy);
  const ux = dx / L, uy = dy / L;
  const bx = x1 - ux * headLen, by = y1 - uy * headLen;
  svg.append("line").attr("x1", x0).attr("y1", y0).attr("x2", bx + ux * 2).attr("y2", by + uy * 2)
    .attr("stroke", RED).attr("stroke-width", 4.5);
  svg.append("path")
    .attr("d", `M${x1},${y1}L${bx - uy * headHalf},${by + ux * headHalf}L${bx + uy * headHalf},${by - ux * headHalf}Z`)
    .attr("fill", RED);
}
redArrow(0, 253.8, 194.6, 274.8, 28, 12.5);
redArrow(0, 785, 184, 879.3, 30, 13);

// open star marking the solar radius
const star = { cx: 114, cy: 505, R: 82, r: 31.3 };
const starPts = d3.range(10).map(i => {
  const a = -Math.PI / 2 + i * Math.PI / 5, rr = i % 2 ? star.r : star.R;
  return [star.cx + rr * Math.cos(a), star.cy + rr * Math.sin(a)];
});
svg.append("path").attr("d", "M" + starPts.join("L") + "Z")
  .attr("fill", "none").attr("stroke", "#000").attr("stroke-width", 4.5).attr("stroke-linejoin", "miter");

// big outlined arrow with the gradient label
const bigArrow = [[496.7, 510], [474.9, 448.3], [970, 280], [950.4, 211.7], [1109.6, 268.3], [1015.8, 413.3], [991.8, 343.3]];
svg.append("path").attr("d", "M" + bigArrow.join("L") + "Z")
  .attr("fill", "#fff").attr("stroke", "#000").attr("stroke-width", 8).attr("stroke-linejoin", "miter");
svg.append("text")
  .attr("transform", "translate(645,448) rotate(-17)")
  .attr("font-family", SERIF).attr("font-size", 56).attr("fill", "#555")
  .attr("textLength", 202).attr("lengthAdjust", "spacing")
  .text("1.1 km/s");
</script>
</body>
</html>
